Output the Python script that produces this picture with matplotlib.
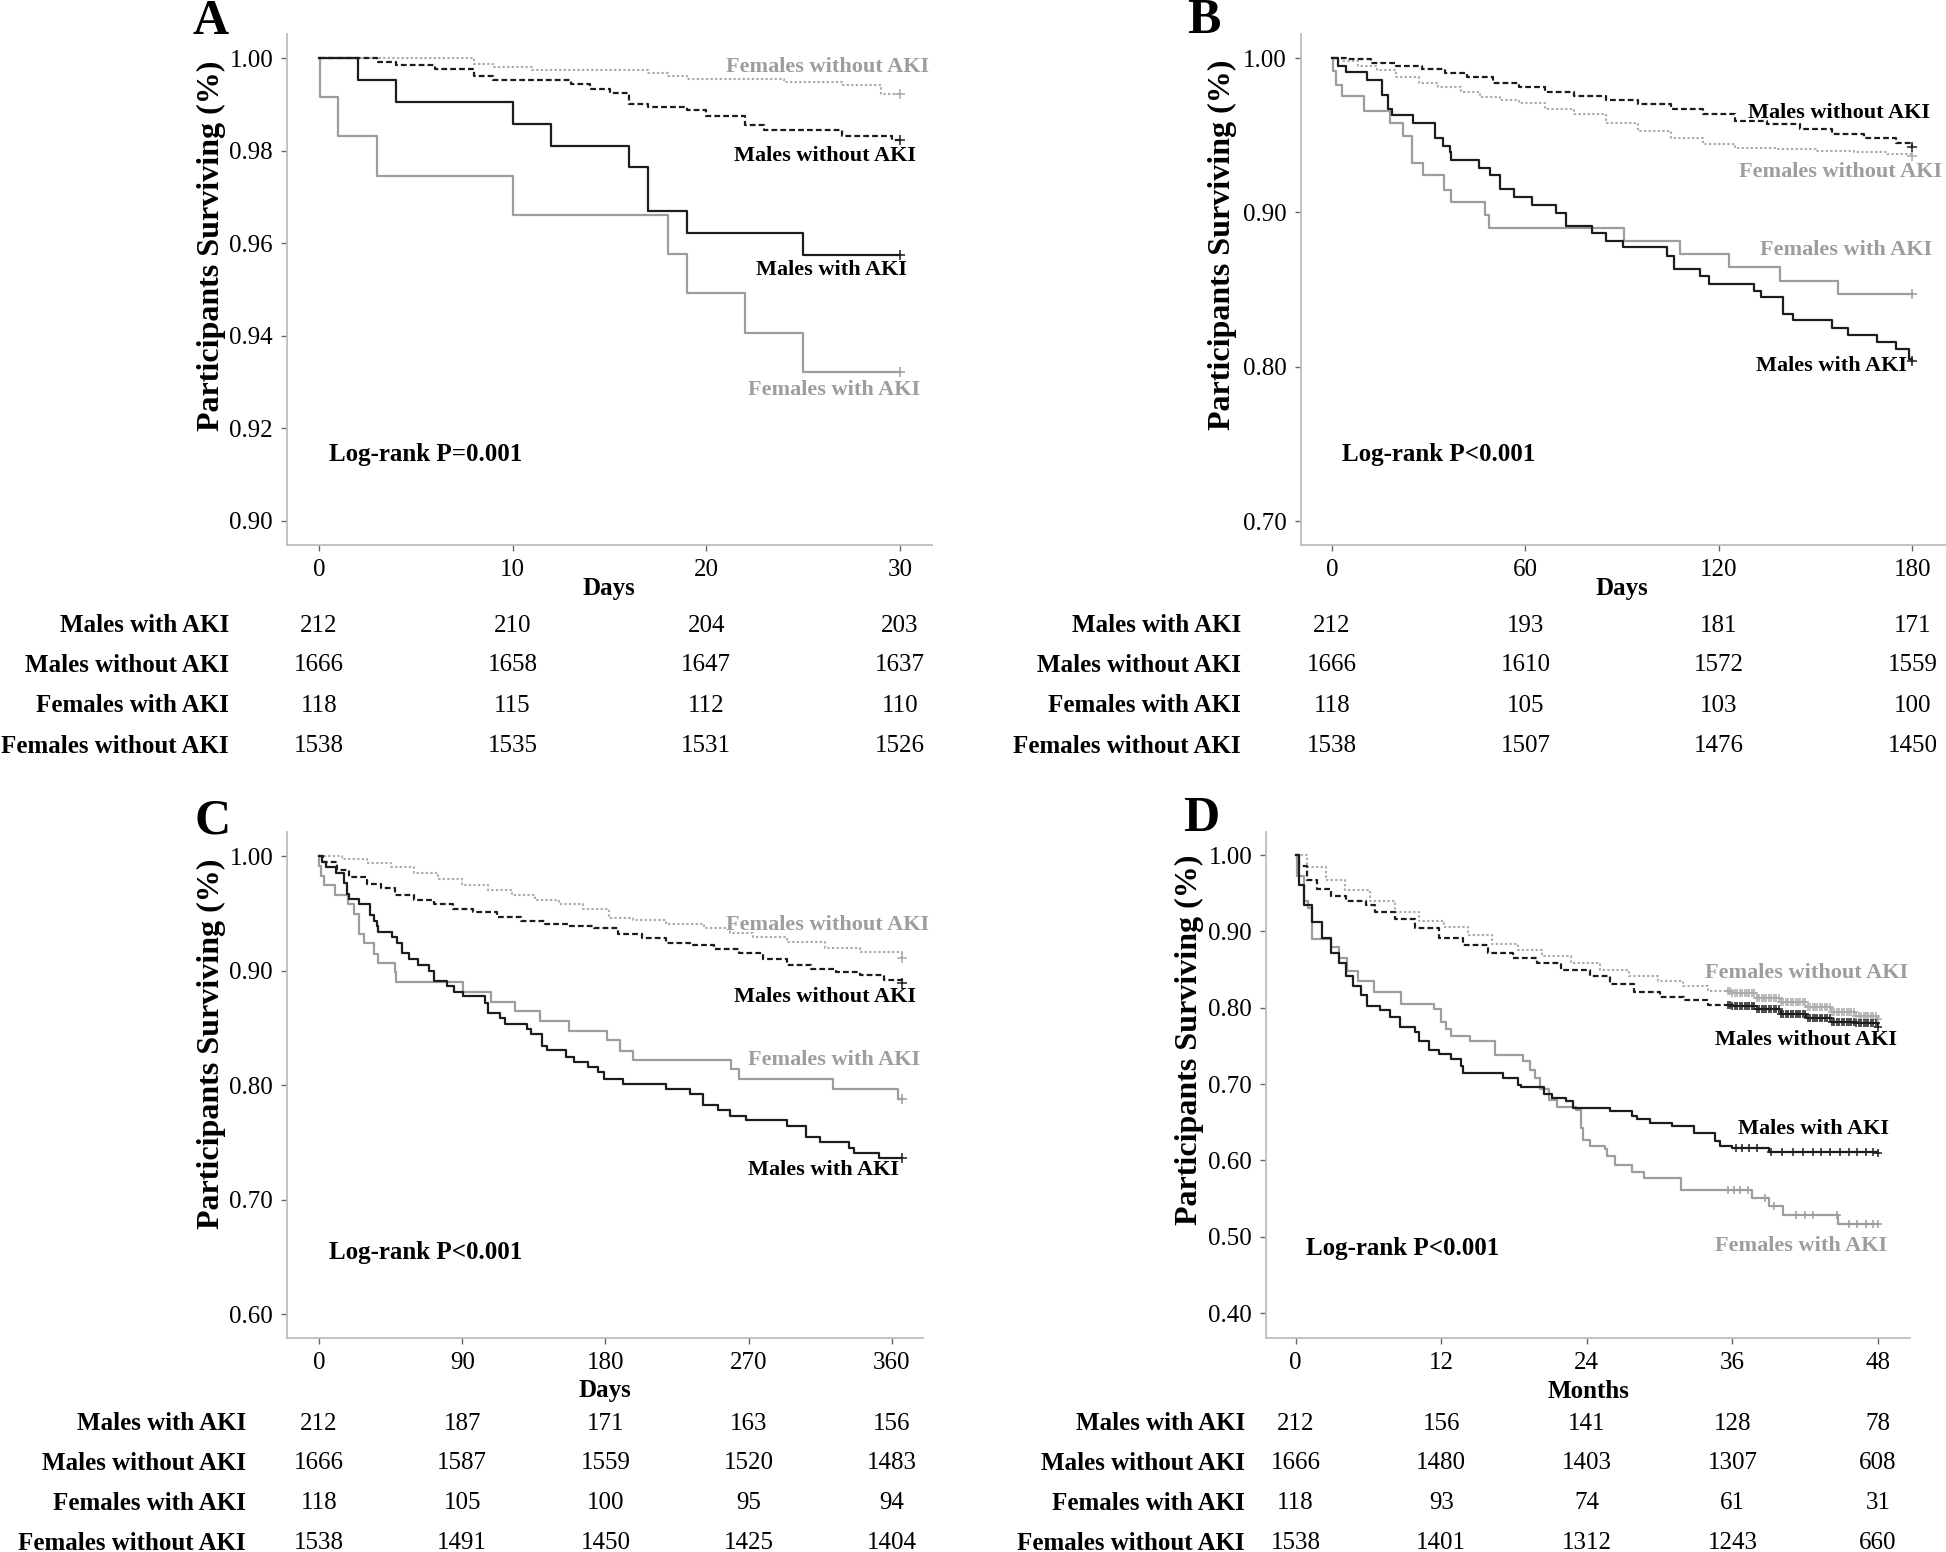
import numpy as np
import matplotlib.pyplot as plt
from matplotlib import transforms

plt.rcParams['font.family'] = ['Liberation Serif', 'DejaVu Serif']

W, H = 1946, 1552
BLACK = '#1c1c1c'
GREY = '#9d9d9d'
LGREY = '#ababab'

group_names = ['Males with AKI', 'Males without AKI', 'Females with AKI', 'Females without AKI']

# ---- panel A: 30 days ----
a_mwa_t = [0, 2, 4, 10, 12, 16, 17, 19, 25, 30]
a_mwa_s = [1.0, 0.9953, 0.9906, 0.9858, 0.9811, 0.9764, 0.9670, 0.9623, 0.9575, 0.9575]
a_mwo_t = [0, 3, 4, 6, 8, 9, 13, 14, 15, 16, 17, 19, 20, 22, 23, 27, 29.6, 30]
a_mwo_s = [1.0, 0.9991, 0.9985, 0.9977, 0.9961, 0.9952, 0.9944, 0.9934, 0.9924, 0.9900,
           0.9895, 0.9888, 0.9874, 0.9856, 0.9845, 0.9832, 0.9823, 0.9823]
a_fwa_t = [0, 0.05, 1, 3, 10, 18, 19, 22, 25, 30]
a_fwa_s = [1.0, 0.9915, 0.9831, 0.9746, 0.9661, 0.9576, 0.9492, 0.9407, 0.9322, 0.9322]
a_fwo_t = [0, 8, 9, 11, 17, 18, 19, 24, 27, 29, 30]
a_fwo_s = [1.0, 0.9987, 0.9981, 0.9974, 0.9968, 0.9961, 0.9955, 0.9948, 0.9941, 0.9922, 0.9922]
a_ticks = [0, 10, 20, 30]
a_risk = [[212, 210, 204, 203], [1666, 1658, 1647, 1637],
          [118, 115, 112, 110], [1538, 1535, 1531, 1526]]

# ---- panel B: 180 days ----
b_mwa_t = [0, 1.8, 4.5, 11, 15.5, 17.4, 18.6, 25, 32, 34.4, 36.5, 37, 45.7, 49, 52, 56.3,
           62, 69.4, 72.5, 80.5, 85, 90.3, 104, 106, 114, 117, 131, 133, 140, 143, 155,
           160, 169, 175, 179, 180]
b_mwa_s = [1.0, 0.995, 0.9907, 0.9856, 0.9763, 0.967, 0.9628, 0.9577, 0.9484, 0.943, 0.939,
           0.934, 0.929, 0.924, 0.915, 0.910, 0.905, 0.8995, 0.891, 0.8867, 0.8816, 0.8774,
           0.8716, 0.863, 0.8588, 0.8537, 0.849, 0.845, 0.8344, 0.8305, 0.825, 0.8205,
           0.8158, 0.8112, 0.8053, 0.8035]
b_mwo_t = [0, 5, 12, 20, 28, 35, 42, 50, 58, 66, 75, 85, 95, 105, 115, 125, 135, 145, 155,
           165, 175, 180]
b_mwo_s = [1.0, 0.9995, 0.997, 0.995, 0.993, 0.990, 0.9875, 0.984, 0.981, 0.978, 0.9755,
           0.9728, 0.970, 0.967, 0.9635, 0.959, 0.957, 0.954, 0.951, 0.948, 0.945, 0.9425]
b_fwa_t = [0, 0.3, 1.2, 3, 9.8, 18.1, 21.9, 24.9, 28.2, 34.7, 37, 47.5, 48.6, 90.6, 107.9,
           123, 138.9, 157, 180]
b_fwa_s = [1.0, 0.9914, 0.9828, 0.9751, 0.9658, 0.9577, 0.9495, 0.9321, 0.924, 0.9147,
           0.9065, 0.8984, 0.8902, 0.8816, 0.8728, 0.8647, 0.8558, 0.8472, 0.8472]
b_fwo_t = [0, 3, 8, 14, 20, 27, 33, 40, 46, 52, 58, 66, 75, 85, 95, 105, 115, 125, 138,
           150, 162, 172, 180]
b_fwo_s = [1.0, 0.998, 0.995, 0.992, 0.988, 0.984, 0.981, 0.978, 0.975, 0.973, 0.971,
           0.967, 0.964, 0.958, 0.953, 0.948, 0.944, 0.942, 0.941, 0.940, 0.939, 0.938, 0.9365]
b_ticks = [0, 60, 120, 180]
b_risk = [[212, 193, 181, 171], [1666, 1610, 1572, 1559],
          [118, 105, 103, 100], [1538, 1507, 1476, 1450]]

# ---- panel C: 365 days ----
c_mwa_t = [0, 1.8, 4.5, 11, 15.5, 17.4, 18.6, 25, 32, 34.4, 36.5, 37, 45.7, 49, 52, 56.3,
           62, 69.4, 72.5, 80.5, 85, 90.3, 104, 106, 114, 117, 131, 133, 140, 143, 155,
           160, 169, 175, 179, 191, 218, 233, 241, 251, 258, 268, 294, 306, 315, 333, 336,
           352, 366]
c_mwa_s = [1.0, 0.995, 0.9907, 0.9856, 0.9763, 0.967, 0.9628, 0.9577, 0.9484, 0.943, 0.939,
           0.934, 0.929, 0.924, 0.915, 0.910, 0.905, 0.8995, 0.891, 0.8867, 0.8816, 0.8774,
           0.8716, 0.863, 0.8588, 0.8537, 0.849, 0.845, 0.8344, 0.8305, 0.825, 0.8205,
           0.8158, 0.8112, 0.8053, 0.801, 0.797, 0.792, 0.783, 0.778, 0.773, 0.770, 0.764,
           0.755, 0.750, 0.745, 0.741, 0.736, 0.736]
c_mwo_t = [0, 2.4, 11.5, 19, 30, 39, 48, 60, 72, 84, 97, 112, 127, 142, 157, 173, 188, 203,
           218, 233, 248, 264, 279, 294, 309, 325, 340, 355, 366]
c_mwo_s = [1.0, 0.995, 0.988, 0.982, 0.976, 0.972, 0.966, 0.962, 0.958, 0.954, 0.951, 0.947,
           0.943, 0.941, 0.939, 0.937, 0.932, 0.928, 0.9245, 0.922, 0.919, 0.915, 0.910,
           0.905, 0.9015, 0.899, 0.896, 0.892, 0.889]
c_fwa_t = [0, 0.3, 1.2, 3, 9.8, 18.1, 21.9, 24.9, 28.2, 34.7, 37, 47.5, 48.6, 90.6, 107.9,
           123, 138.9, 157, 181, 189, 197, 259, 264, 323, 364, 366]
c_fwa_s = [1.0, 0.9914, 0.9828, 0.9751, 0.9658, 0.9577, 0.9495, 0.9321, 0.924, 0.9147,
           0.9065, 0.8984, 0.8902, 0.8816, 0.8728, 0.8647, 0.8558, 0.8472, 0.839, 0.830,
           0.822, 0.814, 0.805, 0.797, 0.788, 0.788]
c_fwo_t = [0, 14.6, 30, 45, 60, 75, 90, 106, 121, 136, 151, 166, 182, 197, 218, 242, 258,
           273, 294, 318, 340, 366]
c_fwo_s = [1.0, 0.997, 0.994, 0.990, 0.985, 0.980, 0.975, 0.970, 0.966, 0.962, 0.958, 0.954,
           0.946, 0.944, 0.941, 0.937, 0.933, 0.929, 0.925, 0.920, 0.916, 0.911]
c_ticks = [0, 90, 180, 270, 360]
c_risk = [[212, 187, 171, 163, 156], [1666, 1587, 1559, 1520, 1483],
          [118, 105, 100, 95, 94], [1538, 1491, 1450, 1425, 1404]]

# ---- panel D: 48 months ----
d_mwa_t = [0, 0.32, 0.73, 1.33, 2.14, 2.94, 3.55, 4.15, 4.76, 5.36, 5.85, 6.98, 7.78, 8.59,
           9.8, 10.2, 11.0, 11.8, 12.8, 13.6, 13.8, 17.1, 18.3, 18.6, 20.5, 21.1, 22.3,
           22.9, 25.9, 27.7, 28.1, 29.2, 31.0, 32.8, 34.6, 35.0, 36.0, 39.0, 48.0]
d_mwa_s = [1.0, 0.9605, 0.935, 0.9117, 0.8909, 0.8723, 0.8583, 0.842, 0.8281, 0.8165, 0.8026,
           0.797, 0.7877, 0.7747, 0.7677, 0.756, 0.745, 0.739, 0.733, 0.723, 0.7144, 0.7074,
           0.699, 0.6958, 0.6874, 0.6818, 0.6772, 0.668, 0.6642, 0.6586, 0.654, 0.6493,
           0.6447, 0.6363, 0.626, 0.619, 0.6158, 0.6112, 0.6098]
d_mwo_t = [0, 0.32, 0.93, 1.73, 2.94, 4.15, 5.77, 6.57, 8.19, 9.8, 11.8, 13.8, 15.85, 17.9,
           19.9, 21.9, 24.3, 25.9, 27.9, 30.0, 32.0, 34.0, 36.0, 38.0, 40.0, 42.1, 44.1,
           46.1, 48.0]
d_mwo_s = [1.0, 0.986, 0.9675, 0.9559, 0.9466, 0.9396, 0.935, 0.9257, 0.9164, 0.9048,
           0.8909, 0.8816, 0.8723, 0.8653, 0.8583, 0.849, 0.8421, 0.8305, 0.8212, 0.8142,
           0.8096, 0.804, 0.8017, 0.798, 0.7919, 0.7863, 0.7817, 0.7794, 0.7747]
d_fwa_t = [0, 0.12, 0.73, 1.0, 1.33, 2.94, 3.55, 4.27, 5.16, 6.5, 8.67, 11.4, 12.0, 12.4,
           12.8, 14.4, 16.45, 18.7, 19.3, 19.7, 20.1, 20.9, 21.5, 23.1, 23.5, 23.7, 24.3,
           25.5, 25.7, 26.3, 27.7, 28.75, 31.8, 37.6, 39.0, 40.2, 44.7, 48.0]
d_fwa_s = [1.0, 0.972, 0.9396, 0.930, 0.8895, 0.8792, 0.8653, 0.8477, 0.835, 0.821, 0.8049,
           0.798, 0.7817, 0.7724, 0.7631, 0.7562, 0.7376, 0.7306, 0.719, 0.7074, 0.6935,
           0.6795, 0.6702, 0.6656, 0.6424, 0.6261, 0.6191, 0.6145, 0.6052, 0.5936, 0.5843,
           0.5773, 0.5611, 0.5504, 0.5402, 0.5286, 0.516, 0.516]
d_fwo_t = [0, 0.93, 2.5, 4.1, 6.1, 8.2, 10.2, 12.2, 14.2, 16.2, 18.3, 20.3, 22.7, 25.1,
           27.5, 29.9, 31.9, 34.0, 36.0, 38.0, 40.0, 42.1, 44.1, 46.1, 48.0]
d_fwo_s = [1.0, 0.984, 0.967, 0.954, 0.940, 0.926, 0.914, 0.906, 0.895, 0.884, 0.875, 0.868,
           0.858, 0.849, 0.842, 0.835, 0.828, 0.822, 0.819, 0.813, 0.807, 0.801, 0.794,
           0.789, 0.785]
# censored observations (months)
d_cens_mwa = [36.3, 36.8, 37.4, 38.0, 39.2, 40.1, 41.0, 41.8, 42.6, 43.3, 44.0, 44.9, 45.6,
              46.3, 47.0, 47.6, 48.0]
d_cens_fwa = [35.6, 36.1, 36.6, 37.3, 38.7, 39.4, 41.2, 42.0, 42.6, 44.6, 45.6, 46.3, 47.0,
              47.6, 48.0]
d_cens_wo = [35.6, 35.8, 36.0, 36.2, 36.4, 36.6, 36.8, 37.0, 37.2, 37.4, 37.6, 37.8, 38.0,
             38.2, 38.4, 38.6, 38.8, 39.0, 39.2, 39.4, 39.6, 39.8, 40.0, 40.2, 40.4, 40.6,
             40.8, 41.0, 41.2, 41.4, 41.6, 41.8, 42.0, 42.2, 42.4, 42.6, 42.8, 43.0, 43.2,
             43.4, 43.6, 43.8, 44.0, 44.2, 44.4, 44.6, 44.8, 45.0, 45.2, 45.4, 45.6, 45.8,
             46.0, 46.2, 46.4, 46.6, 46.8, 47.0, 47.2, 47.4, 47.6, 47.8, 48.0]
d_ticks = [0, 12, 24, 36, 48]
d_risk = [[212, 156, 141, 128, 78], [1666, 1480, 1403, 1307, 608],
          [118, 93, 74, 61, 31], [1538, 1401, 1312, 1243, 660]]


fig = plt.figure(figsize=(W / 100, H / 100), dpi=100)


def fxy(x, y):
    # pixel position -> figure fraction
    return x / W, 1 - y / H


def make_panel(box, xlim, ylim, xticks, yticks):
    l, t, r, b = box
    ax = fig.add_axes([l / W, 1 - b / H, (r - l) / W, (b - t) / H])
    ax.set_xlim(*xlim)
    ax.set_ylim(*ylim)
    ax.set_xticks(xticks)
    ax.set_yticks(yticks)
    ax.set_yticklabels(['%.2f' % v for v in yticks])
    for side in ['top', 'right']:
        ax.spines[side].set_visible(False)
    for side in ['left', 'bottom']:
        ax.spines[side].set_color('#bdbdbd')
        ax.spines[side].set_linewidth(1.3)
    ax.tick_params(direction='out', length=4, width=1, color='#666666',
                   labelsize=18, pad=6)
    return ax


def km(ax, t, s, color, ls, lw=1.6, cens=None):
    ax.step(t, s, where='post', color=color, ls=ls, lw=lw)
    if cens is None:
        ax.plot(t[-1], s[-1], marker='+', ms=7, mew=1.1, color=color, ls='none')
    else:
        idx = np.searchsorted(t, cens, side='right') - 1
        ax.plot(cens, np.array(s)[idx], marker='+', ms=6, mew=1.1, color=color, ls='none')


def text(x, y, s, size=16, color='black', ha='center', rot=0):
    fig.text(*fxy(x, y), s, fontsize=size, color=color, fontweight='bold',
             ha=ha, va='center', rotation=rot)


def risk_table(ax, ticks, risk, label_right, rows_y):
    tr = transforms.blended_transform_factory(ax.transData, fig.transFigure)
    for i, name in enumerate(group_names):
        text(label_right, rows_y[i], name, size=18, ha='right')
        for x, n in zip(ticks, risk[i]):
            ax.text(x, 1 - rows_y[i] / H, str(n), transform=tr, ha='center',
                    va='center', fontsize=18)


DASH = (0, (2.6, 1.4))
DOT = (0, (1.1, 1.1))
rows_top = [625.5, 665, 706, 746]
rows_bot = [1423.5, 1463, 1503, 1543]

# A
axA = make_panel((287, 33.5, 932, 545), (-1.65, 31.65), (0.8948, 1.0053), a_ticks,
                 [0.90, 0.92, 0.94, 0.96, 0.98, 1.00])
km(axA, a_fwo_t, a_fwo_s, LGREY, DOT, 1.5)
km(axA, a_mwo_t, a_mwo_s, BLACK, DASH)
km(axA, a_fwa_t, a_fwa_s, GREY, '-')
km(axA, a_mwa_t, a_mwa_s, BLACK, '-')
text(828, 67, 'Females without AKI', color=GREY)
text(825, 156, 'Males without AKI')
text(831, 270, 'Males with AKI')
text(834, 390, 'Females with AKI', color=GREY)
text(426, 455, 'Log-rank P=0.001', size=18)
text(609, 588, 'Days', size=18)
risk_table(axA, a_ticks, a_risk, 229, rows_top)

# B
axB = make_panel((1300.6, 33.5, 1946, 545), (-9.73, 190.4), (0.6845, 1.0159), b_ticks,
                 [0.70, 0.80, 0.90, 1.00])
km(axB, b_fwo_t, b_fwo_s, LGREY, DOT, 1.5)
km(axB, b_mwo_t, b_mwo_s, BLACK, DASH)
km(axB, b_fwa_t, b_fwa_s, GREY, '-')
km(axB, b_mwa_t, b_mwa_s, BLACK, '-')
text(1839, 113, 'Males without AKI')
text(1841, 172, 'Females without AKI', color=GREY)
text(1846, 250, 'Females with AKI', color=GREY)
text(1832, 366, 'Males with AKI')
text(1439, 455, 'Log-rank P<0.001', size=18)
text(1622, 588, 'Days', size=18)
risk_table(axB, b_ticks, b_risk, 1241, rows_top)

# C
axC = make_panel((287, 831.6, 923, 1338), (-20.1, 379.5), (0.5793, 1.0213), c_ticks,
                 [0.60, 0.70, 0.80, 0.90, 1.00])
km(axC, c_fwo_t, c_fwo_s, LGREY, DOT, 1.5)
km(axC, c_mwo_t, c_mwo_s, BLACK, DASH)
km(axC, c_fwa_t, c_fwa_s, GREY, '-')
km(axC, c_mwa_t, c_mwa_s, BLACK, '-')
text(828, 925, 'Females without AKI', color=GREY)
text(825, 997, 'Males without AKI')
text(834, 1060, 'Females with AKI', color=GREY)
text(823, 1170, 'Males with AKI')
text(426, 1253, 'Log-rank P<0.001', size=18)
text(605, 1391, 'Days', size=18)
risk_table(axC, c_ticks, c_risk, 246, rows_bot)

# D
axD = make_panel((1266, 831.6, 1910, 1338), (-2.44, 50.63), (0.3673, 1.0307), d_ticks,
                 [0.40, 0.50, 0.60, 0.70, 0.80, 0.90, 1.00])
km(axD, d_fwo_t, d_fwo_s, LGREY, DOT, 1.5, cens=d_cens_wo)
km(axD, d_mwo_t, d_mwo_s, BLACK, DASH, cens=d_cens_wo)
km(axD, d_fwa_t, d_fwa_s, GREY, '-', cens=d_cens_fwa)
km(axD, d_mwa_t, d_mwa_s, BLACK, '-', cens=d_cens_mwa)
text(1807, 973, 'Females without AKI', color=GREY)
text(1806, 1040, 'Males without AKI')
text(1813, 1129, 'Males with AKI')
text(1801, 1246, 'Females with AKI', color=GREY)
text(1403, 1248, 'Log-rank P<0.001', size=18)
text(1589, 1392, 'Months', size=18)
risk_table(axD, d_ticks, d_risk, 1245, rows_bot)

# y labels and panel letters
for (x, y) in [(211, 246), (1222, 245), (211, 1044), (1189, 1040)]:
    text(x, y, 'Participants Surviving (%)', size=23, rot=90)
for (x, y, s) in [(211, 22, 'A'), (1204, 21, 'B'), (213, 822, 'C'), (1201, 819, 'D')]:
    text(x, y, s, size=36)

fig.savefig('out.png', dpi=100)
